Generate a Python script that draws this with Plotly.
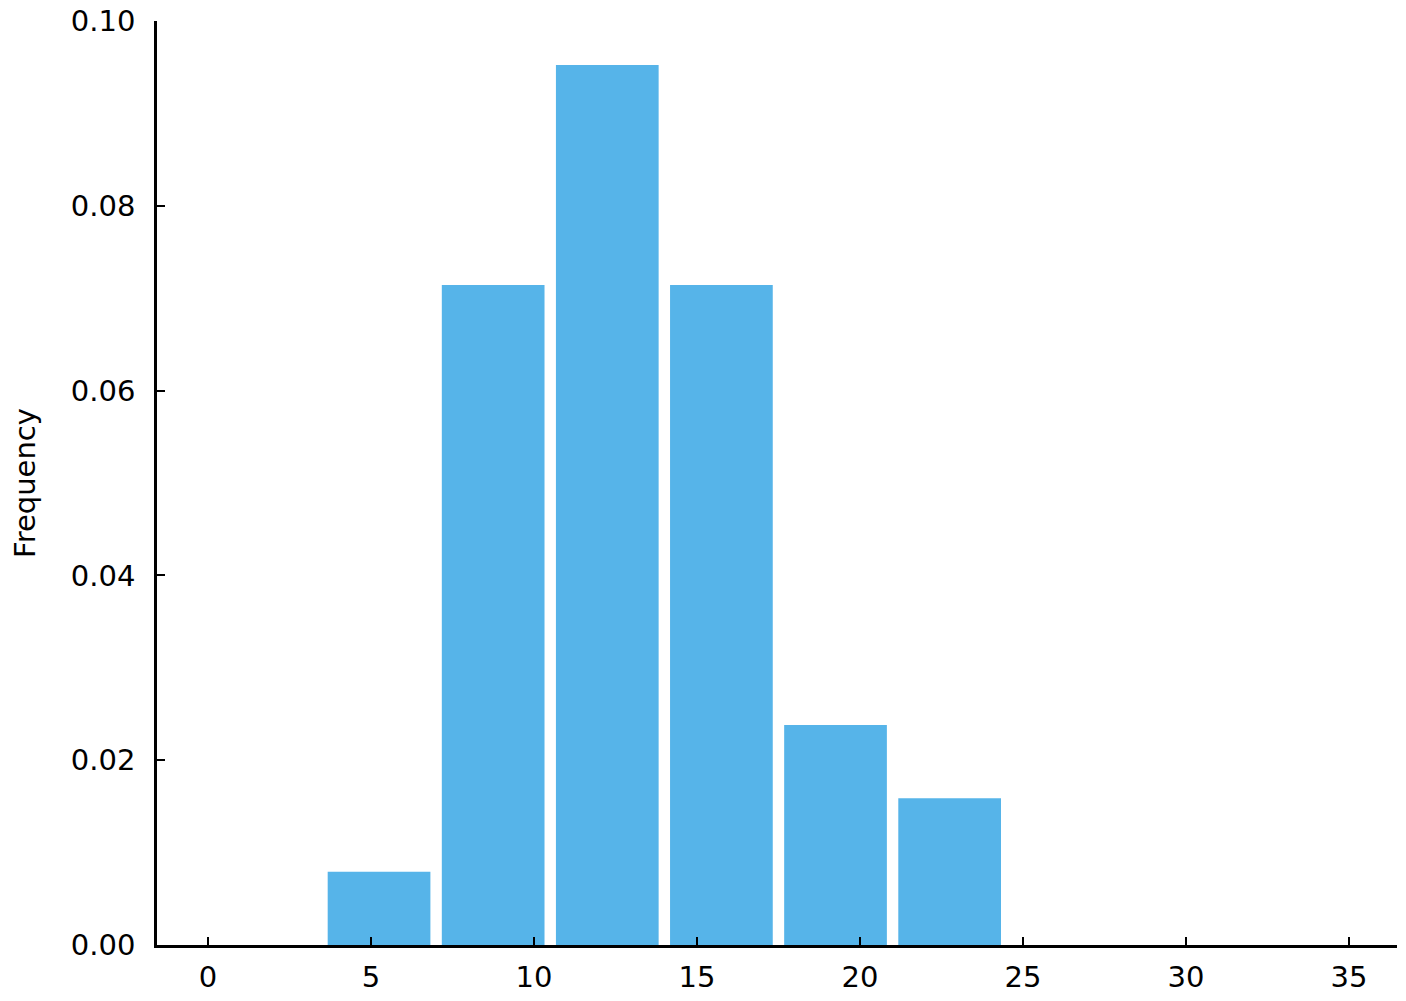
import plotly.graph_objects as go

# Histogram data (density per bin)
bin_edges = [3.5, 7.0, 10.5, 14.0, 17.5, 21.0, 24.5]
counts = [1, 9, 12, 9, 3, 2]
total = 36
bin_width = 3.5
x_ticks = [0, 5, 10, 15, 20, 25, 30, 35]
y_ticks = [0.0, 0.02, 0.04, 0.06, 0.08, 0.10]

centers = [(bin_edges[i] + bin_edges[i + 1]) / 2 for i in range(len(counts))]
density = [c / (total * bin_width) for c in counts]

fig = go.Figure()
fig.add_trace(go.Bar(
    x=centers, y=density, width=bin_width * 0.9,
    marker=dict(color="#56B4E9", line=dict(width=0)),
    showlegend=False,
))

font = dict(family="DejaVu Sans", size=29, color="black")
fig.update_layout(
    width=1406, height=1001,
    plot_bgcolor="white", paper_bgcolor="white",
    margin=dict(l=157, r=9, t=21, b=56, autoexpand=False),
    font=font,
    xaxis=dict(
        range=[-1.56, 36.47], tickvals=x_ticks, ticktext=[str(v) for v in x_ticks],
        showline=True, linecolor="black", linewidth=2.5, mirror=False,
        ticks="inside", ticklen=8, tickwidth=1.5, tickcolor="black",
        showgrid=False, zeroline=False, ticklabelstandoff=4, automargin=False,
        ticklabeloverflow="allow",
    ),
    yaxis=dict(
        range=[0, 0.1], tickvals=y_ticks, ticktext=[f"{v:.2f}" for v in y_ticks],
        showline=True, linecolor="black", linewidth=2.5,
        ticks="inside", ticklen=8, tickwidth=1.5, tickcolor="black",
        showgrid=False, zeroline=False, ticklabelstandoff=13, automargin=False,
        ticklabeloverflow="allow",
        title=dict(text="Frequency", font=dict(family="DejaVu Sans", size=29), standoff=27),
    ),
)
fig.write_html(
    "out.html",
    config={"displayModeBar": False},
    post_script="document.body.style.margin='0';document.body.style.overflow='hidden';",
)
